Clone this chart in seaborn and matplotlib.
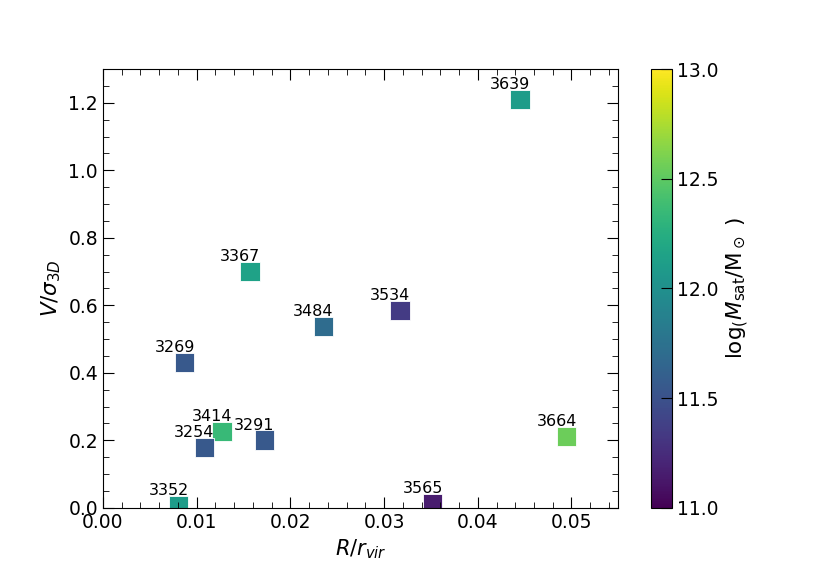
import matplotlib
matplotlib.use("Agg")
import numpy as np
import pandas as pd
import matplotlib.pyplot as plt
import seaborn as sb
from matplotlib.ticker import MultipleLocator

# satellite ids, R/r_vir, V/sigma_3D, log(M_sat/M_sun)
ids = ["3639", "3367", "3534", "3484", "3269", "3414", "3254", "3291", "3664", "3352", "3565"]
r_rvir = [0.0445, 0.0157, 0.0317, 0.0235, 0.0087, 0.0127, 0.0108, 0.0172, 0.0495, 0.0081, 0.0352]
v_sigma = [1.21, 0.70, 0.585, 0.537, 0.430, 0.225, 0.178, 0.201, 0.212, 0.008, 0.012]
log_msat = [12.1, 12.15, 11.35, 11.7, 11.55, 12.35, 11.55, 11.55, 12.55, 12.1, 11.15]

df = pd.DataFrame({"R": r_rvir, "V": v_sigma, "M": log_msat, "id": ids})

fig = plt.figure(figsize=(8.3, 5.81), dpi=100)
ax = fig.add_axes([0.124, 0.126, 0.621, 0.755])
cax = fig.add_axes([0.784, 0.126, 0.026, 0.755])

norm = plt.Normalize(11, 13)
sb.scatterplot(data=df, x="R", y="V", hue="M", hue_norm=norm, palette="viridis",
               marker="s", s=190, edgecolor="w", linewidth=0.6, legend=False, ax=ax)

for i in range(len(ids)):
    ax.text(r_rvir[i] - 0.0032, v_sigma[i] + 0.031, ids[i], fontsize=11.5)

ax.set_xlim(0, 0.055)
ax.set_ylim(0, 1.3)
ax.xaxis.set_major_locator(MultipleLocator(0.01))
ax.xaxis.set_minor_locator(MultipleLocator(0.002))
ax.yaxis.set_major_locator(MultipleLocator(0.2))
ax.yaxis.set_minor_locator(MultipleLocator(0.05))
ax.tick_params(which="both", direction="in", top=True, right=True, labelsize=13.5)
ax.tick_params(which="major", length=8)
ax.tick_params(which="minor", length=4)
ax.set_xlabel(r"$R/r_{vir}$", fontsize=15)
ax.set_ylabel(r"$V/\sigma_{3D}$", fontsize=15.5)

sm = plt.cm.ScalarMappable(cmap="viridis", norm=norm)
cb = fig.colorbar(sm, cax=cax)
cb.set_ticks([11.0, 11.5, 12.0, 12.5, 13.0])
cb.ax.tick_params(direction="in", length=8, labelsize=13.5)
cb.set_label(r"log$_($$M_{\rm sat}$/M$_\odot$ )", fontsize=15.5)

fig.savefig("out.png", dpi=100)
